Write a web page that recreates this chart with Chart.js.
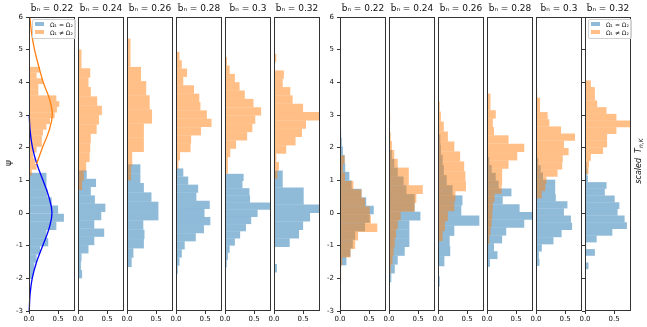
<!DOCTYPE html>
<html>
<head>
<meta charset="utf-8">
<script src="https://cdn.jsdelivr.net/npm/chart.js@4.4.1/dist/chart.umd.min.js"></script>
<style>
    body { margin: 0; width: 647px; height: 327px; position: relative; overflow: hidden; background: #fff; font-family: 'DejaVu Sans', sans-serif; }
    canvas { position: absolute; top: 0; }
    .legend { position: absolute; border: 1px solid #d0d0d0; border-radius: 2px; background: rgba(255,255,255,0.8); padding: 1px 2px; z-index: 5; }
    .legend div { font-size: 6px; line-height: 8px; white-space: nowrap; color: #111; }
    .legend span { display: inline-block; width: 9px; height: 4px; margin-right: 6px; vertical-align: 1px; }
    .axis-label { position: absolute; white-space: nowrap; transform: translate(-50%, -50%) rotate(-90deg); color: #111; z-index: 5; }
</style>
</head>
<body>

<div class="axis-label" style="left:8px; top:163px; font-size:9px;">ψ</div>
<div class="axis-label" style="left:639px; top:161px; font-size:8px; font-style:italic;">scaled&nbsp;&nbsp;T<sub style="font-size:6px">n,K</sub></div>

<script>
// Tick labels, titles and legend
const bValues = ['0.22', '0.24', '0.26', '0.28', '0.3', '0.32'];
const seriesNames = ['Ω₁ = Ω₂', 'Ω₁ ≠ Ω₂'];
const yTicks = [-3, -2, -1, 0, 1, 2, 3, 4, 5, 6];
const xTicks = [0, 0.5];

// Left block (psi): bin start, bin width, bar length per bin (lowest bin first)
const leftEqStart = [-2.02, -2.0, -2.8, -1.86, -1.66, -1.82];
const leftEqWidth = [0.25, 0.254, 0.286, 0.248, 0.22, 0.26];
const leftEqDensity = [
    [0.07, 0.09, 0.13, 0.19, 0.33, 0.30, 0.47, 0.60, 0.50, 0.39, 0.32, 0.30, 0.30],
    [0.07, 0.05, 0.06, 0.18, 0.28, 0.45, 0.28, 0.40, 0.47, 0.29, 0.22, 0.31, 0.15],
    [0.01, 0.01, 0.01, 0.01, 0.08, 0.11, 0.29, 0.30, 0.28, 0.54, 0.54, 0.42, 0.29, 0.23, 0.23],
    [0.03, 0.06, 0.10, 0.15, 0.34, 0.48, 0.59, 0.49, 0.58, 0.35, 0.38, 0.21, 0.125],
    [0.03, 0.05, 0.08, 0.17, 0.26, 0.36, 0.45, 0.56, 0.82, 0.43, 0.42, 0.30, 0.32],
    [0.05, 0, 0.01, 0.27, 0.43, 0.50, 0.62, 0.82, 0.51, 0.51, 0.15, 0.15]
];
const leftNeStart = [1.15, 0.7, 1.0, 1.35, 1.2, 1.05];
const leftNeWidth = [0.175, 0.287, 0.434, 0.256, 0.255, 0.255];
const leftNeDensity = [
    [0.05, 0.13, 0.10, 0.07, 0.13, 0.22, 0.22, 0.24, 0.30, 0.36, 0.44, 0.48, 0.52, 0.47, 0.16, 0.16, 0.24, 0.13, 0.19],
    [0.07, 0.10, 0.14, 0.20, 0.21, 0.22, 0.32, 0.36, 0.41, 0.33, 0.22, 0.18, 0.21, 0.06, 0.06],
    [0.07, 0.09, 0.29, 0.29, 0.43, 0.39, 0.33, 0.24, 0.06, 0.06],
    [0.04, 0.07, 0.25, 0.26, 0.43, 0.61, 0.53, 0.42, 0.40, 0.31, 0.125, 0.19, 0.10, 0.06],
    [0.05, 0.05, 0.09, 0.19, 0.38, 0.47, 0.52, 0.62, 0.49, 0.34, 0.25, 0.17, 0.08, 0.035],
    [0.06, 0.085, 0.04, 0.21, 0.37, 0.48, 0.55, 0.80, 0.50, 0.32, 0.28, 0.15, 0.17, 0, 0.04]
];

// Right block (scaled T_n,K)
const rightEqStart = [-1.6, -2.12, -2.25, -1.65, -1.62, -1.72];
const rightEqWidth = [0.26, 0.27, 0.31, 0.24, 0.22, 0.205];
const rightEqDensity = [
    [0.11, 0.18, 0.22, 0.26, 0.43, 0.51, 0.58, 0.45, 0.37, 0.20, 0.16, 0.09, 0.08, 0.05, 0.03, 0.02],
    [0.04, 0.10, 0.15, 0.27, 0.35, 0.35, 0.35, 0.54, 0.44, 0.44, 0.30, 0.25, 0.15, 0.09, 0.05],
    [0.03, 0, 0.11, 0.21, 0.20, 0.28, 0.71, 0.40, 0.42, 0.25, 0.15, 0.10, 0.08, 0.05, 0.04, 0.02],
    [0.05, 0.18, 0.12, 0.26, 0.33, 0.64, 0.79, 0.56, 0.27, 0.42, 0.20, 0.15, 0.08, 0.04, 0.02],
    [0.06, 0.05, 0.10, 0.30, 0.44, 0.62, 0.60, 0.48, 0.54, 0.34, 0.33, 0.33, 0.12, 0.08, 0.04, 0.02],
    [0.06, 0, 0.17, 0.02, 0.20, 0.47, 0.72, 0.68, 0.56, 0.59, 0.51, 0.34, 0.37, 0.05, 0.04, 0.03]
];
const rightNeStart = [-2.4, -1.85, -0.86, -0.95, 0.45, 1.19];
const rightNeWidth = [0.26, 0.27, 0.305, 0.256, 0.22, 0.205];
const rightNeDensity = [
    [0.01, 0.02, 0.02, 0.04, 0.18, 0.26, 0.31, 0.64, 0.53, 0.51, 0.43, 0.37, 0.23, 0.085, 0.05, 0.08],
    [0.03, 0.06, 0.08, 0.10, 0.12, 0.15, 0.20, 0.44, 0.47, 0.58, 0.34, 0.34, 0.15, 0.09, 0.05, 0.03, 0.01, 0.02],
    [0.08, 0.12, 0.17, 0.28, 0.30, 0.48, 0.47, 0.45, 0.38, 0.28, 0.17, 0.10, 0.05, 0.03],
    [0.04, 0.06, 0.08, 0.09, 0.10, 0.13, 0.25, 0.26, 0.26, 0.37, 0.52, 0.64, 0.37, 0.12, 0.10, 0.15, 0.06, 0.06],
    [0.10, 0.16, 0.18, 0.37, 0.45, 0.46, 0.56, 0.48, 0.67, 0.43, 0.23, 0.20, 0.07, 0.07, 0.02],
    [0.06, 0.07, 0.10, 0.31, 0.38, 0.38, 0.54, 0.80, 0.54, 0.37, 0.21, 0.17, 0.17, 0.10]
];

// Reference density curves in the first panel
const curveEqPsi = [-3, -2.5, -2, -1.5, -1, -0.5, 0, 0.5, 1, 1.5, 2, 2.5, 3];
const curveEqDensity = [0.004, 0.018, 0.055, 0.13, 0.235, 0.34, 0.395, 0.34, 0.24, 0.135, 0.06, 0.02, 0.004];
const curveNePsi = [1.5, 2, 2.5, 3, 3.5, 4, 4.5, 5, 5.5, 6];
const curveNeDensity = [0.13, 0.23, 0.34, 0.40, 0.35, 0.245, 0.165, 0.095, 0.045, 0.015];

// Layout
const PLOT_W = 46;
const X_MAX = 0.79;
const leftBlockX = [29, 78, 127, 176, 225, 274];
const rightBlockX = [340, 389, 438, 487, 536, 585];
const FONT = 'DejaVu Sans';
const eqFill = 'rgba(31, 119, 180, 0.5)';
const neFill = 'rgba(255, 127, 14, 0.5)';

// Draw the four spines on top of the bars
const framePlugin = {
    id: 'frame',
    afterDatasetsDraw(chart) {
        const a = chart.chartArea;
        const ctx = chart.ctx;
        ctx.save();
        ctx.strokeStyle = '#333';
        ctx.lineWidth = 1;
        ctx.strokeRect(a.left + 0.5, a.top + 0.5, a.right - a.left - 1, a.bottom - a.top - 1);
        ctx.restore();
    }
};

function toBars(start, width, density) {
    return density.map((d, i) => ({ x: d, y: start + width * (i + 0.5) }));
}

function toCurve(psi, dens) {
    return psi.map((p, i) => ({ x: dens[i], y: p }));
}

function setTicks(values) {
    return function(scale) {
        scale.ticks = values.map(v => ({ value: v }));
    };
}

function barDataset(label, data, color, axisId, order) {
    return {
        label: label,
        data: data,
        backgroundColor: color,
        borderWidth: 0,
        inflateAmount: 0,
        yAxisID: axisId,
        grouped: false,
        barPercentage: 1,
        categoryPercentage: 1,
        clip: 0,
        order: order
    };
}

function lineDataset(data, color) {
    return {
        type: 'line',
        indexAxis: 'y',
        data: data,
        borderColor: color,
        borderWidth: 1.3,
        pointRadius: 0,
        tension: 0.4,
        fill: false,
        yAxisID: 'y',
        clip: 2,
        order: 0
    };
}

function createPanel(plotLeft, title, eqBars, neBars, showLabels, showTicks, curves) {
    const padL = showLabels ? 28 : 12;
    const padR = 12;
    const canvas = document.createElement('canvas');
    canvas.width = padL + PLOT_W + padR;
    canvas.height = 327;
    canvas.style.left = (plotLeft - padL) + 'px';
    document.body.appendChild(canvas);

    const datasets = [
        barDataset(seriesNames[0], eqBars, eqFill, 'y', 2),
        barDataset(seriesNames[1], neBars, neFill, 'y2', 1)
    ];
    (curves || []).forEach(c => datasets.push(lineDataset(c.data, c.color)));

    new Chart(canvas.getContext('2d'), {
        type: 'bar',
        data: { datasets: datasets },
        options: {
            responsive: false,
            animation: false,
            indexAxis: 'y',
            layout: { padding: { left: 0, right: padR, top: 0, bottom: 0 } },
            plugins: {
                legend: { display: false },
                tooltip: { enabled: false },
                title: {
                    display: true,
                    text: title,
                    fullSize: false,
                    color: '#111',
                    font: { family: FONT, size: 9, weight: 'normal', lineHeight: '12px' },
                    padding: { top: 3, bottom: 2 }
                }
            },
            scales: {
                x: {
                    type: 'linear',
                    min: 0,
                    max: X_MAX,
                    offset: false,
                    afterBuildTicks: setTicks(xTicks),
                    afterFit: s => { s.height = 16; },
                    border: { display: false },
                    grid: { display: true, offset: false, drawOnChartArea: false, drawTicks: true, tickLength: 3, color: '#333' },
                    ticks: {
                        color: '#111',
                        padding: 1,
                        maxRotation: 0,
                        autoSkip: false,
                        font: { family: FONT, size: 7 },
                        callback: v => v.toFixed(1)
                    }
                },
                y: {
                    type: 'linear',
                    min: -3,
                    max: 6,
                    offset: false,
                    afterBuildTicks: setTicks(yTicks),
                    afterFit: s => { s.width = padL; },
                    border: { display: false },
                    grid: { display: showTicks, offset: false, drawOnChartArea: false, drawTicks: true, tickLength: 3, color: '#333' },
                    ticks: {
                        display: showLabels,
                        color: '#111',
                        padding: 3,
                        font: { family: FONT, size: 7 }
                    }
                },
                y2: {
                    type: 'linear',
                    min: -3,
                    max: 6,
                    offset: false,
                    display: false,
                    afterBuildTicks: setTicks(yTicks)
                }
            }
        },
        plugins: [framePlugin]
    });
}

function createLegend(left, top) {
    const box = document.createElement('div');
    box.className = 'legend';
    box.style.left = left + 'px';
    box.style.top = top + 'px';
    [eqFill, neFill].forEach((color, i) => {
        const row = document.createElement('div');
        const sw = document.createElement('span');
        sw.style.background = color;
        row.appendChild(sw);
        row.appendChild(document.createTextNode(seriesNames[i]));
        box.appendChild(row);
    });
    document.body.appendChild(box);
}

// Build all panels
for (let i = 0; i < 6; i++) {
    const title = 'b\u0303\u2099 = ' + bValues[i];
    const curves = i === 0 ? [
        { data: toCurve(curveNePsi, curveNeDensity), color: '#ff7f0e' },
        { data: toCurve(curveEqPsi, curveEqDensity), color: '#0000ff' }
    ] : null;
    createPanel(leftBlockX[i], title,
        toBars(leftEqStart[i], leftEqWidth[i], leftEqDensity[i]),
        toBars(leftNeStart[i], leftNeWidth[i], leftNeDensity[i]),
        i === 0, i === 0, curves);
}
for (let i = 0; i < 6; i++) {
    const title = 'b\u0303\u2099 = ' + bValues[i];
    createPanel(rightBlockX[i], title,
        toBars(rightEqStart[i], rightEqWidth[i], rightEqDensity[i]),
        toBars(rightNeStart[i], rightNeWidth[i], rightNeDensity[i]),
        i === 0, i === 0 || i === 5, null);
}

createLegend(32, 19);
createLegend(588, 19);
</script>
</body>
</html>
